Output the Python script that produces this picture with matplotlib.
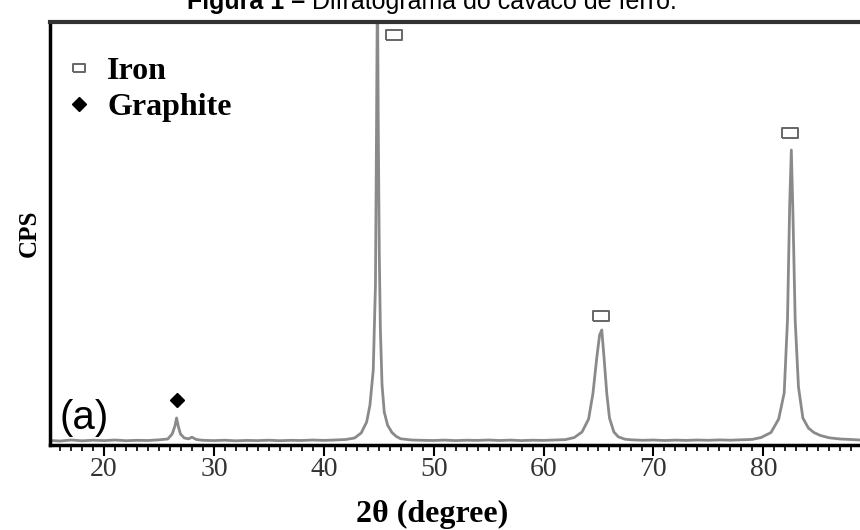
import numpy as np
import matplotlib.pyplot as plt
from matplotlib.lines import Line2D

# ---- data (2theta in degree, CPS in arbitrary units) ----
two_theta = [15.1, 16, 17, 18, 19, 20, 21, 22, 23, 24, 25, 25.8, 26.2, 26.45, 26.6, 26.75, 26.95,
             27.3, 27.7, 28.0, 28.4, 29, 30, 31, 32, 33, 34, 35, 36, 37, 38, 39, 40, 41, 42,
             42.8, 43.4, 43.9, 44.2, 44.5, 44.7, 44.8, 44.88, 44.95, 45.05, 45.15, 45.3, 45.5,
             45.8, 46.2, 46.6, 47, 48, 49, 50, 51, 52, 53, 54, 55, 56, 57, 58, 59, 60, 61, 62,
             62.8, 63.5, 64.1, 64.5, 64.85, 65.1, 65.3, 65.5, 65.75, 66.0, 66.4, 66.8, 67.4,
             68, 69, 70, 71, 72, 73, 74, 75, 76, 77, 78, 79, 79.8, 80.7, 81.4, 81.9, 82.2,
             82.4, 82.55, 82.7, 82.9, 83.2, 83.6, 84.1, 84.6, 85.2, 86, 87, 88, 88.8]
cps = [45, 40, 50, 42, 48, 44, 50, 43, 47, 45, 52, 60, 110, 190, 270, 190, 110,
       70, 62, 78, 55, 47, 44, 48, 42, 46, 44, 48, 43, 47, 45, 50, 46, 50, 55,
       70, 120, 230, 400, 750, 1600, 3200, 4700, 3300, 1900, 1150, 600, 330,
       200, 125, 85, 62, 50, 47, 45, 49, 44, 48, 46, 50, 45, 49, 44, 48, 46, 50, 54,
       75, 130, 260, 520, 880, 1100, 1150, 880, 520, 270, 130, 82, 58,
       52, 47, 50, 45, 49, 46, 50, 47, 51, 48, 52, 56, 75, 125, 260, 520, 1250,
       2400, 2950, 2300, 1250, 580, 270, 170, 125, 95, 72, 60, 55, 50]

iron_x = [46.4, 65.2, 82.4]
iron_y = [4100, 1290, 3120]
graphite_x = [26.6]
graphite_y = [450]

tick_vals = [20, 30, 40, 50, 60, 70, 80]

serif = "Liberation Serif"

fig = plt.figure(figsize=(8.6, 5.3), dpi=100)
ax = fig.add_axes([50 / 860, 85 / 530, 1 - 50 / 860, 423 / 530])

ax.plot(two_theta, cps, color="#8a8a8a", lw=2)

# peak markers
rect = [(-1.6, -1), (1.6, -1), (1.6, 1), (-1.6, 1), (-1.6, -1)]
ax.plot(iron_x, iron_y, ls="none", marker=rect, ms=11, mfc="white", mec="#666666", mew=1.4)
ax.plot(graphite_x, graphite_y, ls="none", marker="D", ms=7, color="black")

ax.set_xlim(15.08, 88.8)
ax.set_ylim(0, 4230)

ax.set_xticks(tick_vals)
ax.set_xticks(np.arange(16, 89, 1), minor=True)
ax.set_yticks([])
ax.tick_params(axis="x", which="major", direction="out", length=8, width=1.5,
               labelsize=20, pad=1)
ax.tick_params(axis="x", which="minor", direction="out", length=4, width=1.2)
for lab in ax.get_xticklabels():
    lab.set_fontfamily(serif)
    lab.set_color("#333333")

ax.spines["right"].set_visible(False)
ax.spines["top"].set_lw(3)
ax.spines["top"].set_color("#333333")
ax.spines["left"].set_lw(2.5)
ax.spines["bottom"].set_lw(2.5)

ax.set_xlabel("2θ (degree)", fontfamily=serif, fontweight="bold", fontsize=23)
ax.xaxis.set_label_coords(382 / 810, -0.13)
ax.set_ylabel("CPS", fontfamily=serif, fontweight="bold", fontsize=18, labelpad=7)

# legend
handles = [
    Line2D([], [], ls="none", marker=rect, ms=9, mfc="white", mec="#666666", mew=1.4),
    Line2D([], [], ls="none", marker="D", ms=7, color="black"),
]
ax.legend(handles, ["Iron", "Graphite"], loc="upper left", bbox_to_anchor=(-0.016, 0.985),
          frameon=False, handlelength=0.8, handletextpad=0.5, labelspacing=0.2,
          prop={"family": serif, "weight": "bold", "size": 23})

ax.text(0.012, 0.02, "(a)", transform=ax.transAxes, fontsize=29,
        fontfamily="Liberation Sans", ha="left", va="bottom")

# title, cut at the top of the picture as in the source
t1 = fig.text(187 / 860, 1 - 9 / 530, "Figura 1 – ", fontsize=18, fontweight="bold",
              fontfamily="Liberation Sans", va="baseline")
ax.annotate("Difratograma do cavaco de ferro.", xy=(1, 0), xycoords=t1,
            fontsize=18, fontfamily="Liberation Sans", va="bottom", ha="left",
            annotation_clip=False)

fig.set_facecolor("white")
plt.savefig("out.png", dpi=100)
